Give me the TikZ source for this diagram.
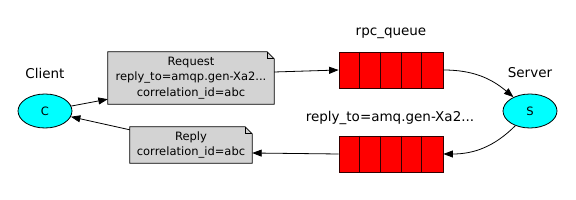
\documentclass[tikz,border=0pt]{standalone}
\usepackage{fontspec}
\setmainfont{DejaVu Sans}
\usetikzlibrary{arrows.meta,shapes.geometric,backgrounds}
\definecolor{notegray}{HTML}{D3D3D3}
\definecolor{qred}{HTML}{FF0000}
\definecolor{ecyan}{HTML}{00FFFF}
\begin{document}
\begin{tikzpicture}[x=1pt,y=1pt,
  txt/.style={font=\fontsize{11.5}{15.5}\selectfont, text=black},
  endpoint/.style={shape=ellipse, draw=black, line width=0.8pt, fill=ecyan, minimum width=54pt, minimum height=34pt, inner sep=0pt, txt},
  notebox/.style={shape=rectangle, inner sep=0pt, align=center, txt},
  queuebox/.style={shape=rectangle, draw=black!80!red, line width=0.8pt, fill=qred, minimum width=104pt, minimum height=36pt, inner sep=0pt},
  lbl/.style={font=\fontsize{13.5}{16}\selectfont, text=black, inner sep=0pt},
  arr/.style={draw=black, line width=0.8pt, -{Triangle[length=9.5pt,width=7pt]}}]
\useasboundingbox (0,0) rectangle (576,200);

\node[endpoint] (c) at (45,89) {C};
\node[endpoint] (s) at (530,89) {S};
\node[lbl] (lclient) at (45,127) {Client};
\node[lbl] (lserver) at (530,127) {Server};

\node[notebox, minimum width=166pt, minimum height=52pt] (req) at (191,122)
  {Request\\reply\_to=amqp.gen-Xa2...\\correlation\_id=abc};
\node[notebox, minimum width=122pt, minimum height=36pt] (rep) at (191,55)
  {Reply\\correlation\_id=abc};

\begin{scope}[on background layer]
\fill[white] (0,0) rectangle (576,200);
\foreach \n in {req,rep}{
  \filldraw[fill=notegray, draw=black, line width=0.8pt, line join=miter]
    (\n.north west) -- ([xshift=-7pt]\n.north east) -- ([yshift=-7pt]\n.north east)
    -- (\n.south east) -- (\n.south west) -- cycle;
  \draw[black, line width=0.8pt] ([xshift=-7pt]\n.north east) |- ([yshift=-7pt]\n.north east);
}
\end{scope}

\node[queuebox] (q1) at (391,130) {};
\node[queuebox] (q2) at (391,46) {};
\foreach \q in {q1,q2}{
  \foreach \i in {1,...,4}{
    \draw[black!80!red, line width=0.8pt] ([xshift=\i*20.8pt]\q.north west) -- ([xshift=\i*20.8pt]\q.south west);
  }
}
\node[lbl] (lrpc) at (391,167) {rpc\_queue};
\node[lbl] (lreply) at (390,82) {reply\_to=amq.gen-Xa2...};

\draw[arr] (c) -- ([yshift=5pt]req.south west);
\draw[arr] ([yshift=6pt]req.east) -- (q1.west);
\draw[arr] (q1.east) to[out=0,in=140] (s);
\draw[arr] (s) to[out=225,in=0] (q2.east);
\draw[arr] (q2.west) -- ([yshift=-8pt]rep.east);
\draw[arr] ([yshift=-3pt]rep.north west) -- (c);
\end{tikzpicture}
\end{document}
